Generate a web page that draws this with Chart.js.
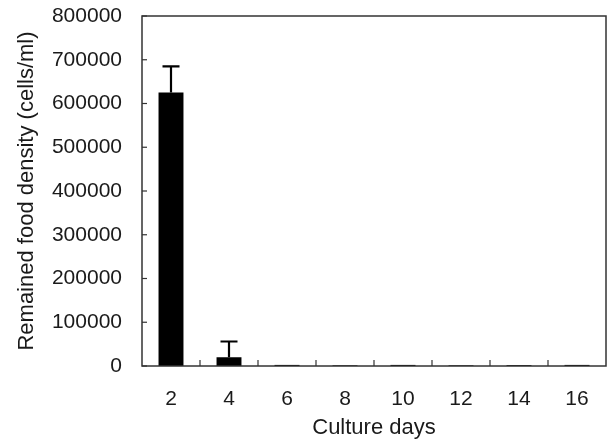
<!DOCTYPE html>
<html><head><meta charset="utf-8">
<script src="https://cdn.jsdelivr.net/npm/chart.js@4/dist/chart.umd.min.js"></script>
<style>html,body{margin:0;padding:0;background:#fff}#wrap{width:610px;height:447px}</style>
</head><body><div id="wrap"><canvas id="c" width="610" height="447"></canvas></div>
<script>
const days = ['2','4','6','8','10','12','14','16'];
const density = [625000, 20000, 2500, 1500, 2500, 1500, 2000, 2500];
const errors = [60000, 36000, 0, 0, 0, 0, 0, 0];
const yTicks = [0,100000,200000,300000,400000,500000,600000,700000,800000];

const FONT = 'Liberation Sans, Arial, sans-serif';
const INK = '#1a1a1a';

const decor = {
  id: 'decor',
  afterDatasetsDraw(chart) {
    const ctx = chart.ctx, a = chart.chartArea;
    const xs = chart.scales.x, ys = chart.scales.y;
    ctx.save();
    const meta = chart.getDatasetMeta(0);
    ctx.strokeStyle = '#000';
    ctx.lineWidth = 2.2;
    meta.data.forEach((bar, i) => {
      if (!errors[i]) return;
      const x = bar.x;
      const yTop = ys.getPixelForValue(density[i] + errors[i]);
      const yv = ys.getPixelForValue(density[i]);
      ctx.beginPath();
      ctx.moveTo(x, yv); ctx.lineTo(x, yTop);
      ctx.moveTo(x - 8.5, yTop); ctx.lineTo(x + 8.5, yTop);
      ctx.stroke();
    });
    ctx.strokeStyle = '#333';
    ctx.lineWidth = 1.5;
    ctx.strokeRect(a.left, a.top, a.right - a.left, a.bottom - a.top);
    ctx.lineWidth = 1.2;
    yTicks.forEach(v => {
      const y = ys.getPixelForValue(v);
      ctx.beginPath(); ctx.moveTo(a.left, y); ctx.lineTo(a.left + 5, y); ctx.stroke();
    });
    for (let i = 1; i < days.length; i++) {
      const x = (xs.getPixelForValue(i - 1) + xs.getPixelForValue(i)) / 2;
      ctx.beginPath(); ctx.moveTo(x, a.bottom); ctx.lineTo(x, a.bottom - 6); ctx.stroke();
    }
    ctx.restore();
  }
};

new Chart(document.getElementById('c'), {
  type: 'bar',
  data: {
    labels: days,
    datasets: [{
      data: density,
      backgroundColor: '#000',
      borderWidth: 0,
      barPercentage: 0.43,
      categoryPercentage: 1.0
    }]
  },
  options: {
    responsive: false,
    animation: false,
    devicePixelRatio: 1,
    layout: { padding: { top: 16, right: 4, left: 0, bottom: 0 } },
    plugins: { legend: { display: false }, tooltip: { enabled: false } },
    scales: {
      x: {
        grid: { display: false, drawTicks: false, offset: true },
        border: { display: false },
        ticks: { color: INK, font: { family: FONT, size: 21 }, padding: 21, maxRotation: 0 },
        title: { display: true, text: 'Culture days', color: INK, font: { family: FONT, size: 22 }, padding: { top: 0, bottom: 6 } },
        afterFit(s) { s.height = 81; s.paddingLeft = 0; s.paddingRight = 0; }
      },
      y: {
        min: 0, max: 800000,
        afterBuildTicks(s) { s.ticks = yTicks.map(v => ({ value: v })); },
        grid: { display: false, drawTicks: false },
        border: { display: false },
        ticks: { color: INK, font: { family: FONT, size: 21 }, padding: 20, callback: v => String(v) },
        title: { display: true, text: 'Remained food density (cells/ml)', color: INK, font: { family: FONT, size: 22 }, padding: { top: 14, bottom: 0 } },
        afterFit(s) { s.width = 142; s.paddingTop = 0; s.paddingBottom = 0; }
      }
    }
  },
  plugins: [decor]
});
</script>
</body></html>
